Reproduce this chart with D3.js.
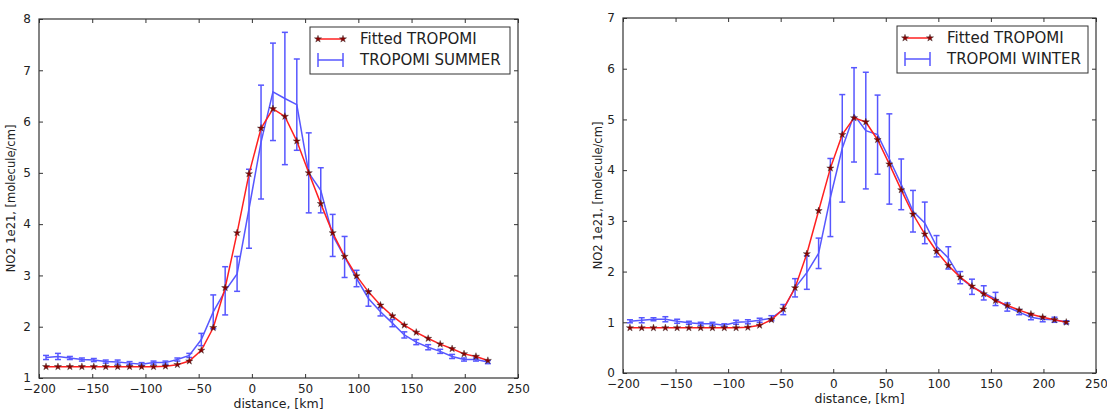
<!DOCTYPE html>
<html>
<head>
<meta charset="utf-8">
<script src="https://cdn.jsdelivr.net/npm/d3@7"></script>
<style>
  body { margin: 0; background: #fff; }
  svg text { font-family: "DejaVu Sans", sans-serif; fill: #222; }
</style>
</head>
<body>
<div id="chart"></div>
<script>
// distance along the plume, km (same for both panels)
const distance = [-193.4, -182.2, -171.0, -159.7, -148.5, -137.3, -126.1, -114.9, -103.6, -92.4,
    -81.2, -70.0, -58.8, -47.5, -36.3, -25.1, -13.9, -2.7, 8.6, 19.8,
    31.0, 42.2, 53.4, 64.7, 75.9, 87.1, 98.3, 109.5, 120.8, 132.0,
    143.2, 154.4, 165.6, 176.9, 188.1, 199.3, 210.5, 221.7];

// summer panel
const summerFit = [1.22, 1.22, 1.22, 1.22, 1.22, 1.22, 1.22, 1.22, 1.22, 1.22,
    1.23, 1.26, 1.33, 1.54, 1.98, 2.76, 3.83, 4.98, 5.87, 6.25,
    6.10, 5.62, 5.00, 4.40, 3.83, 3.37, 2.99, 2.68, 2.42, 2.21,
    2.03, 1.89, 1.77, 1.66, 1.57, 1.47, 1.42, 1.34];
const summerObs = [1.40, 1.42, 1.39, 1.36, 1.35, 1.32, 1.31, 1.29, 1.27, 1.30,
    1.30, 1.36, 1.44, 1.75, 2.29, 2.70, 3.03, 4.30, 5.60, 6.58,
    6.45, 6.33, 5.00, 4.66, 3.78, 3.36, 2.94, 2.55, 2.29, 2.07,
    1.84, 1.70, 1.60, 1.52, 1.42, 1.36, 1.36, 1.31];
const summerErr = [0.04, 0.06, 0.03, 0.03, 0.03, 0.03, 0.04, 0.03, 0.03, 0.03,
    0.03, 0.03, 0.04, 0.12, 0.33, 0.47, 0.34, 0.77, 1.11, 0.95,
    1.29, 0.89, 0.78, 0.44, 0.41, 0.40, 0.16, 0.15, 0.08, 0.07,
    0.06, 0.05, 0.05, 0.04, 0.04, 0.03, 0.03, 0.03];

// winter panel
const winterFit = [0.89, 0.89, 0.89, 0.89, 0.89, 0.89, 0.89, 0.89, 0.89, 0.89,
    0.90, 0.94, 1.05, 1.26, 1.68, 2.35, 3.20, 4.04, 4.70, 5.03,
    4.95, 4.60, 4.12, 3.61, 3.13, 2.74, 2.40, 2.12, 1.89, 1.71,
    1.56, 1.43, 1.33, 1.24, 1.16, 1.10, 1.05, 1.00];
const winterObs = [1.02, 1.04, 1.06, 1.06, 1.02, 0.99, 0.97, 0.97, 0.94, 1.00,
    1.01, 1.04, 1.08, 1.25, 1.68, 1.98, 2.36, 3.46, 4.43, 5.09,
    4.78, 4.70, 4.22, 3.72, 3.19, 2.96, 2.50, 2.27, 1.88, 1.70,
    1.58, 1.46, 1.30, 1.20, 1.10, 1.06, 1.05, 1.00];
const winterErr = [0.03, 0.05, 0.03, 0.05, 0.04, 0.03, 0.03, 0.03, 0.03, 0.04,
    0.04, 0.04, 0.05, 0.10, 0.18, 0.33, 0.30, 0.77, 1.06, 0.93,
    1.15, 0.78, 0.89, 0.50, 0.41, 0.41, 0.21, 0.22, 0.12, 0.15,
    0.14, 0.13, 0.08, 0.05, 0.05, 0.05, 0.05, 0.03];

const xTicks = [-200, -150, -100, -50, 0, 50, 100, 150, 200, 250];
const summerYTicks = [1, 2, 3, 4, 5, 6, 7, 8];
const winterYTicks = [0, 1, 2, 3, 4, 5, 6, 7];

const fitName = "Fitted TROPOMI";
const xTitle = "distance, [km]";
const yTitle = "NO2 1e21, [molecule/cm]";

const svg = d3.select("#chart").append("svg")
    .attr("width", 1107)
    .attr("height", 410);

const blue = "#1f1fff";
const red = "#ff2020";

function drawPanel(cfg) {
    const g = svg.append("g")
        .attr("transform", `translate(${cfg.left},${cfg.top})`);

    const x = d3.scaleLinear().domain([-200, 250]).range([0, cfg.width]);
    const y = d3.scaleLinear().domain(cfg.yDomain).range([cfg.height, 0]);

    // axes: ticks inside, on all four sides (classic matplotlib)
    const fmt = d3.format("");
    g.append("g")
        .attr("transform", `translate(0,${cfg.height})`)
        .call(d3.axisBottom(x).tickValues(xTicks).tickSize(-4).tickPadding(6).tickFormat(fmt));
    g.append("g")
        .call(d3.axisTop(x).tickValues(xTicks).tickSize(-4).tickFormat(""));
    g.append("g")
        .call(d3.axisLeft(y).tickValues(cfg.yTicks).tickSize(-4).tickPadding(8).tickFormat(fmt));
    g.append("g")
        .attr("transform", `translate(${cfg.width},0)`)
        .call(d3.axisRight(y).tickValues(cfg.yTicks).tickSize(-4).tickFormat(""));

    g.selectAll(".domain").remove();
    g.selectAll(".tick line").attr("stroke", "#333");
    g.selectAll(".tick text").style("font-size", "12px").attr("fill", "#222")
        .style("font-family", "DejaVu Sans, sans-serif");

    g.append("rect")
        .attr("width", cfg.width)
        .attr("height", cfg.height)
        .attr("fill", "none")
        .attr("stroke", "#333")
        .attr("stroke-width", 1.2);

    const pts = distance.map((d, i) => ({ d: d, fit: cfg.fit[i], obs: cfg.obs[i], err: cfg.err[i] }));

    // observed with error bars
    const obsG = g.append("g").attr("opacity", 0.75);
    obsG.append("path")
        .datum(pts)
        .attr("fill", "none")
        .attr("stroke", blue)
        .attr("stroke-width", 1.5)
        .attr("d", d3.line().x(p => x(p.d)).y(p => y(p.obs)));
    const bars = obsG.selectAll(".eb").data(pts).enter().append("g").attr("class", "eb");
    bars.append("line")
        .attr("x1", p => x(p.d)).attr("x2", p => x(p.d))
        .attr("y1", p => y(p.obs - p.err)).attr("y2", p => y(p.obs + p.err))
        .attr("stroke", blue).attr("stroke-width", 1.5);
    [-1, 1].forEach(s => {
        bars.append("line")
            .attr("x1", p => x(p.d) - 3).attr("x2", p => x(p.d) + 3)
            .attr("y1", p => y(p.obs + s * p.err)).attr("y2", p => y(p.obs + s * p.err))
            .attr("stroke", blue).attr("stroke-width", 1.5);
    });

    // fitted curve with star markers
    g.append("path")
        .datum(pts)
        .attr("fill", "none")
        .attr("stroke", red)
        .attr("stroke-width", 1.5)
        .attr("d", d3.line().x(p => x(p.d)).y(p => y(p.fit)));
    const star = d3.symbol().type(d3.symbolStar).size(16);
    g.selectAll(".star").data(pts).enter().append("path")
        .attr("class", "star")
        .attr("d", star)
        .attr("transform", p => `translate(${x(p.d)},${y(p.fit)})`)
        .attr("fill", "#8b0000")
        .attr("stroke", "#333")
        .attr("stroke-width", 0.4);

    // axis titles
    g.append("text")
        .attr("x", cfg.width / 2)
        .attr("y", cfg.height + 30)
        .attr("text-anchor", "middle")
        .style("font-size", "12.5px")
        .text(xTitle);
    g.append("text")
        .attr("transform", `translate(${cfg.yTitleX},${cfg.height / 2}) rotate(-90)`)
        .attr("text-anchor", "middle")
        .style("font-size", "11.5px")
        .text(yTitle);

    // legend
    const lg = g.append("g")
        .attr("transform", `translate(${cfg.legendX},${cfg.legendY})`);
    lg.append("rect")
        .attr("width", cfg.legendW).attr("height", 47)
        .attr("fill", "#fff").attr("stroke", "#333").attr("stroke-width", 1);
    lg.append("line")
        .attr("x1", 8).attr("x2", 33).attr("y1", 12).attr("y2", 12)
        .attr("stroke", red).attr("stroke-width", 1.5);
    [8, 33].forEach(px => {
        lg.append("path").attr("d", star)
            .attr("transform", `translate(${px},12)`)
            .attr("fill", "#8b0000").attr("stroke", "#333").attr("stroke-width", 0.4);
    });
    const lb = lg.append("g").attr("opacity", 0.75);
    lb.append("line").attr("x1", 8).attr("x2", 33).attr("y1", 33).attr("y2", 33)
        .attr("stroke", blue).attr("stroke-width", 1.5);
    [8, 33].forEach(px => {
        lb.append("line").attr("x1", px).attr("x2", px).attr("y1", 26).attr("y2", 40)
            .attr("stroke", blue).attr("stroke-width", 1.5);
    });
    lg.append("text").attr("x", 50).attr("y", 17).style("font-size", "15px").text(fitName);
    lg.append("text").attr("x", 50).attr("y", 38).style("font-size", "15px").text(cfg.obsName);
}

drawPanel({
    left: 39, top: 19, width: 479, height: 359,
    yDomain: [1, 8], yTicks: summerYTicks,
    fit: summerFit, obs: summerObs, err: summerErr,
    obsName: "TROPOMI SUMMER",
    legendX: 271, legendY: 8, legendW: 200, yTitleX: -24
});

drawPanel({
    left: 623, top: 18, width: 473, height: 355,
    yDomain: [0, 7], yTicks: winterYTicks,
    fit: winterFit, obs: winterObs, err: winterErr,
    obsName: "TROPOMI WINTER",
    legendX: 274, legendY: 8, legendW: 191, yTitleX: -21
});
</script>
</body>
</html>
